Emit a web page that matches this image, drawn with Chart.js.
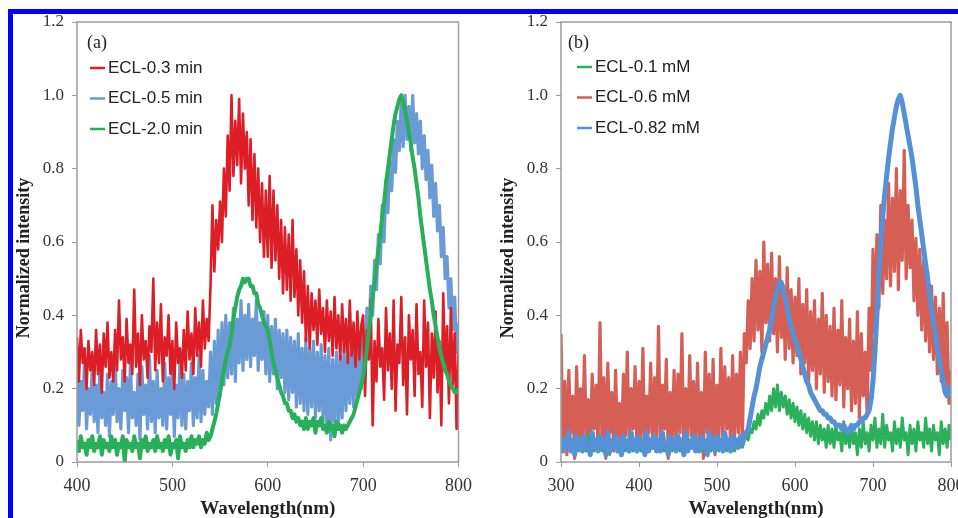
<!DOCTYPE html>
<html>
<head>
<meta charset="utf-8">
<script src="https://cdn.jsdelivr.net/npm/chart.js@4.4.1/dist/chart.umd.min.js"></script>
<style>
  html, body { margin: 0; padding: 0; background: #fff; }
  body { width: 958px; height: 518px; overflow: hidden; position: relative; }
  #chartA { position: absolute; left: 0; top: 0; }
  #chartB { position: absolute; left: 480px; top: 0; }
  #frame {
    position: absolute; left: 8px; top: 9px; width: 2000px; height: 2000px;
    border-top: 5px solid #0000ff; border-left: 5px solid #0000ff; pointer-events: none;
  }
</style>
</head>
<body>
<canvas id="chartA" width="480" height="518"></canvas>
<canvas id="chartB" width="500" height="518"></canvas>
<div id="frame"></div>
<script>
// panel (a): 400-800 nm, every 2 nm
const waveStartA = 400, waveStepA = 2;
// panel (b): 300-800 nm, every 2.5 nm
const waveStartB = 300, waveStepB = 2.5;

const yTicks = [0, 0.2, 0.4, 0.6, 0.8, 1.0, 1.2];
const xTicksA = [400, 500, 600, 700, 800];
const xTicksB = [300, 400, 500, 600, 700, 800];

const labelsA = ['ECL-0.3 min', 'ECL-0.5 min', 'ECL-2.0 min'];
const labelsB = ['ECL-0.1 mM', 'ECL-0.6 mM', 'ECL-0.82 mM'];

// (a) ECL-0.3 min
const ecl03min = [
  0.34,0.22,0.36,0.27,0.31,0.20,0.33,0.25,0.30,0.21,
  0.36,0.24,0.32,0.19,0.35,0.26,0.38,0.23,0.30,0.22,
  0.36,0.25,0.44,0.28,0.34,0.22,0.39,0.27,0.32,0.24,
  0.47,0.26,0.35,0.21,0.40,0.28,0.33,0.23,0.37,0.30,
  0.50,0.25,0.38,0.27,0.43,0.22,0.34,0.29,0.40,0.24,
  0.33,0.20,0.38,0.27,0.31,0.23,0.36,0.25,0.41,0.28,
  0.35,0.24,0.42,0.29,0.38,0.26,0.44,0.31,0.39,0.33,
  0.48,0.70,0.52,0.66,0.58,0.71,0.60,0.80,0.67,0.89,
  0.74,1.00,0.78,0.93,0.81,0.99,0.76,0.95,0.80,0.90,
  0.70,0.88,0.66,0.84,0.64,0.80,0.60,0.76,0.56,0.74,
  0.56,0.78,0.53,0.74,0.55,0.70,0.50,0.66,0.46,0.64,
  0.47,0.62,0.44,0.66,0.45,0.58,0.40,0.55,0.38,0.52,
  0.33,0.48,0.31,0.46,0.36,0.44,0.32,0.47,0.35,0.42,
  0.30,0.44,0.33,0.41,0.29,0.45,0.31,0.40,0.28,0.43,
  0.30,0.39,0.27,0.44,0.29,0.38,0.26,0.41,0.28,0.37,
  0.40,0.18,0.36,0.28,0.44,0.10,0.33,0.22,0.39,0.26,
  0.31,0.17,0.42,0.25,0.35,0.20,0.44,0.14,0.32,0.27,
  0.45,0.21,0.34,0.13,0.40,0.28,0.36,0.18,0.43,0.24,
  0.30,0.15,0.44,0.26,0.38,0.12,0.35,0.23,0.41,0.19,
  0.33,0.10,0.46,0.25,0.37,0.16,0.42,0.21,0.35,0.09,
  0.30
];

// (a) ECL-0.5 min
const ecl05min = [
  0.25,0.10,0.22,0.14,0.28,0.09,0.20,0.13,0.26,0.11,
  0.21,0.08,0.27,0.12,0.19,0.10,0.24,0.07,0.22,0.13,
  0.28,0.11,0.20,0.09,0.25,0.14,0.23,0.08,0.27,0.12,
  0.19,0.10,0.24,0.06,0.26,0.13,0.21,0.09,0.29,0.11,
  0.22,0.08,0.25,0.12,0.20,0.10,0.27,0.09,0.23,0.13,
  0.26,0.07,0.21,0.12,0.28,0.10,0.24,0.09,0.22,0.14,
  0.27,0.10,0.23,0.12,0.29,0.11,0.25,0.13,0.22,0.15,
  0.30,0.13,0.33,0.16,0.36,0.18,0.38,0.21,0.40,0.23,
  0.38,0.24,0.42,0.22,0.39,0.27,0.44,0.25,0.40,0.28,
  0.43,0.26,0.39,0.29,0.44,0.25,0.38,0.28,0.41,0.24,
  0.40,0.22,0.37,0.24,0.39,0.20,0.36,0.23,0.35,0.19,
  0.36,0.17,0.34,0.19,0.33,0.15,0.35,0.16,0.31,0.14,
  0.34,0.13,0.31,0.15,0.33,0.12,0.30,0.14,0.32,0.11,
  0.29,0.10,0.31,0.06,0.28,0.11,0.30,0.09,0.29,0.12,
  0.31,0.14,0.30,0.16,0.33,0.15,0.32,0.17,0.34,0.20,
  0.36,0.28,0.42,0.33,0.48,0.40,0.55,0.47,0.62,0.54,
  0.70,0.60,0.77,0.68,0.82,0.74,0.88,0.79,0.93,0.85,
  0.99,0.86,1.00,0.88,0.97,0.85,1.00,0.87,0.95,0.84,
  0.93,0.80,0.89,0.77,0.85,0.72,0.81,0.67,0.76,0.63,
  0.70,0.56,0.64,0.50,0.56,0.42,0.50,0.36,0.45,0.30,
  0.38
];

// (a) ECL-2.0 min
const ecl20min = [
  0.06,0.03,0.07,0.04,0.05,0.02,0.06,0.04,0.07,0.03,
  0.05,0.04,0.07,0.02,0.06,0.04,0.05,0.03,0.07,0.04,
  0.06,0.02,0.05,0.04,0.07,0.00,0.06,0.04,0.05,0.03,
  0.07,0.04,0.05,0.01,0.06,0.04,0.07,0.03,0.05,0.04,
  0.06,0.03,0.07,0.04,0.05,0.03,0.06,0.04,0.07,0.02,
  0.05,0.04,0.06,0.01,0.07,0.04,0.05,0.03,0.06,0.04,
  0.07,0.04,0.06,0.05,0.07,0.04,0.06,0.05,0.08,0.06,
  0.07,0.09,0.11,0.13,0.16,0.19,0.22,0.25,0.28,0.30,
  0.32,0.35,0.39,0.42,0.45,0.47,0.48,0.50,0.49,0.50,
  0.50,0.48,0.48,0.46,0.46,0.43,0.42,0.40,0.38,0.37,
  0.36,0.33,0.30,0.27,0.25,0.23,0.21,0.19,0.18,0.16,
  0.16,0.14,0.14,0.12,0.13,0.11,0.12,0.10,0.11,0.09,
  0.12,0.09,0.11,0.10,0.12,0.08,0.11,0.10,0.12,0.09,
  0.10,0.08,0.11,0.09,0.10,0.07,0.11,0.09,0.10,0.08,
  0.10,0.09,0.10,0.11,0.12,0.13,0.15,0.17,0.19,0.21,
  0.23,0.27,0.31,0.36,0.40,0.45,0.49,0.54,0.58,0.62,
  0.67,0.71,0.76,0.80,0.84,0.88,0.92,0.95,0.97,0.99,
  1.00,0.98,0.96,0.93,0.90,0.87,0.83,0.80,0.76,0.72,
  0.67,0.63,0.59,0.55,0.51,0.47,0.44,0.40,0.37,0.34,
  0.31,0.29,0.27,0.25,0.24,0.22,0.21,0.20,0.19,0.19,
  0.20
];

// (b) ECL-0.1 mM
const ecl01mM = [
  0.05,0.03,0.06,0.04,0.05,0.03,0.06,0.04,0.05,0.03,
  0.06,0.04,0.05,0.03,0.07,0.04,0.05,0.03,0.06,0.04,
  0.05,0.03,0.06,0.04,0.05,0.02,0.06,0.04,0.05,0.03,
  0.06,0.04,0.05,0.03,0.06,0.04,0.07,0.03,0.05,0.04,
  0.05,0.03,0.06,0.04,0.05,0.03,0.06,0.04,0.05,0.03,
  0.06,0.04,0.08,0.03,0.05,0.04,0.06,0.03,0.05,0.04,
  0.05,0.03,0.06,0.04,0.05,0.03,0.06,0.04,0.05,0.03,
  0.06,0.04,0.05,0.03,0.06,0.04,0.05,0.03,0.06,0.04,
  0.05,0.03,0.06,0.04,0.05,0.03,0.06,0.04,0.05,0.03,
  0.05,0.04,0.06,0.04,0.06,0.07,0.06,0.09,0.08,0.11,
  0.09,0.13,0.10,0.14,0.12,0.16,0.13,0.18,0.14,0.20,
  0.15,0.21,0.14,0.19,0.15,0.18,0.13,0.17,0.12,0.16,
  0.11,0.15,0.10,0.14,0.09,0.13,0.08,0.12,0.07,0.11,
  0.06,0.11,0.05,0.10,0.06,0.09,0.04,0.10,0.05,0.09,
  0.04,0.10,0.06,0.08,0.03,0.11,0.05,0.09,0.04,0.10,
  0.05,0.08,0.02,0.09,0.04,0.11,0.05,0.08,0.03,0.10,
  0.06,0.12,0.04,0.09,0.05,0.13,0.04,0.10,0.06,0.08,
  0.03,0.11,0.05,0.09,0.04,0.12,0.06,0.08,0.02,0.10,
  0.05,0.09,0.03,0.11,0.06,0.08,0.04,0.12,0.05,0.09,
  0.03,0.10,0.06,0.08,0.02,0.11,0.05,0.09,0.04,0.10,
  0.06
];

// (b) ECL-0.6 mM
const ecl06mM = [
  0.35,0.05,0.22,0.02,0.25,0.08,0.18,0.01,0.26,0.06,
  0.20,0.03,0.29,0.07,0.17,0.02,0.24,0.09,0.21,0.04,
  0.38,0.06,0.23,0.01,0.27,0.08,0.19,0.03,0.25,0.05,
  0.16,0.02,0.24,0.07,0.30,0.04,0.20,0.09,0.26,0.03,
  0.22,0.06,0.31,0.02,0.18,0.08,0.27,0.04,0.23,0.07,
  0.37,0.03,0.21,0.09,0.28,0.01,0.19,0.06,0.25,0.04,
  0.24,0.08,0.35,0.02,0.20,0.05,0.29,0.07,0.22,0.03,
  0.27,0.06,0.19,0.01,0.30,0.08,0.24,0.04,0.28,0.02,
  0.21,0.07,0.31,0.05,0.26,0.09,0.23,0.03,0.29,0.06,
  0.24,0.08,0.30,0.05,0.35,0.27,0.44,0.31,0.50,0.33,
  0.55,0.36,0.52,0.30,0.60,0.38,0.54,0.33,0.57,0.35,
  0.50,0.30,0.56,0.34,0.48,0.28,0.53,0.31,0.47,0.27,
  0.45,0.29,0.50,0.24,0.43,0.27,0.47,0.22,0.41,0.25,
  0.44,0.20,0.39,0.24,0.46,0.19,0.40,0.22,0.37,0.18,
  0.42,0.17,0.36,0.21,0.44,0.15,0.34,0.20,0.39,0.14,
  0.33,0.16,0.41,0.12,0.35,0.18,0.30,0.13,0.42,0.25,
  0.58,0.35,0.62,0.42,0.70,0.46,0.66,0.50,0.76,0.48,
  0.72,0.52,0.80,0.47,0.74,0.55,0.85,0.50,0.70,0.53,
  0.66,0.44,0.61,0.40,0.58,0.36,0.55,0.33,0.52,0.30,
  0.48,0.28,0.45,0.24,0.42,0.22,0.46,0.19,0.38,0.16,
  0.25
];

// (b) ECL-0.82 mM
const ecl082mM = [
  0.07,0.03,0.06,0.04,0.08,0.03,0.05,0.02,0.07,0.04,
  0.06,0.03,0.07,0.04,0.05,0.02,0.08,0.04,0.06,0.03,
  0.07,0.04,0.06,0.02,0.08,0.03,0.05,0.04,0.07,0.03,
  0.06,0.02,0.07,0.04,0.05,0.03,0.08,0.04,0.06,0.03,
  0.07,0.04,0.05,0.02,0.08,0.03,0.06,0.04,0.07,0.03,
  0.06,0.03,0.08,0.04,0.05,0.02,0.07,0.04,0.06,0.03,
  0.07,0.04,0.06,0.02,0.08,0.03,0.05,0.04,0.07,0.03,
  0.06,0.03,0.07,0.04,0.05,0.02,0.08,0.04,0.06,0.03,
  0.07,0.04,0.06,0.03,0.08,0.04,0.06,0.03,0.07,0.04,
  0.06,0.04,0.07,0.05,0.07,0.08,0.09,0.12,0.15,0.18,
  0.20,0.23,0.26,0.28,0.30,0.32,0.34,0.36,0.39,0.42,
  0.45,0.47,0.49,0.49,0.47,0.45,0.42,0.39,0.37,0.35,
  0.33,0.32,0.30,0.28,0.26,0.24,0.22,0.21,0.19,0.18,
  0.17,0.16,0.15,0.14,0.14,0.13,0.13,0.12,0.12,0.11,
  0.11,0.10,0.10,0.10,0.09,0.10,0.09,0.08,0.09,0.10,
  0.09,0.10,0.10,0.11,0.11,0.12,0.12,0.13,0.14,0.17,
  0.22,0.30,0.40,0.52,0.60,0.67,0.73,0.78,0.83,0.87,
  0.91,0.94,0.97,0.99,1.00,0.98,0.95,0.92,0.89,0.86,
  0.83,0.79,0.75,0.70,0.66,0.62,0.58,0.54,0.50,0.46,
  0.42,0.38,0.35,0.31,0.28,0.25,0.22,0.19,0.18,0.19,
  0.21
];

function toPoints(values, start, step) {
  return values.map((v, i) => ({ x: start + step * i, y: v }));
}

const serif = '"Liberation Serif", "Times New Roman", serif';
const sans = '"Liberation Sans", Arial, sans-serif';

// frame, panel tag, y title and the in-plot legend
const panelDecor = {
  id: 'panelDecor',
  afterDraw(chart, args, opts) {
    const ctx = chart.ctx;
    const a = chart.chartArea;
    ctx.save();
    ctx.strokeStyle = '#9c9c9c';
    ctx.lineWidth = 1.5;
    ctx.strokeRect(a.left, a.top, a.right - a.left, a.bottom - a.top);

    ctx.fillStyle = '#222';
    ctx.textBaseline = 'middle';
    ctx.textAlign = 'left';
    ctx.font = '18px ' + serif;
    ctx.fillText(opts.tag, opts.tagX, 43);

    ctx.save();
    ctx.translate(opts.titleX, 258);
    ctx.rotate(-Math.PI / 2);
    ctx.textAlign = 'center';
    ctx.font = 'bold 18px ' + serif;
    ctx.fillText('Normalized intensity', 0, 0);
    ctx.restore();

    ctx.font = '17px ' + sans;
    chart.data.datasets.forEach((ds, i) => {
      const y = opts.legendY + i * 30.5;
      ctx.strokeStyle = ds.borderColor;
      ctx.lineWidth = 2.5;
      ctx.beginPath();
      ctx.moveTo(opts.legendX, y);
      ctx.lineTo(opts.legendX + 15, y);
      ctx.stroke();
      ctx.fillStyle = '#222';
      ctx.fillText(ds.label, opts.legendX + 18, y);
    });
    ctx.restore();
  }
};

function makeOptions(xMin, xMax, xTicks, yWidth, padRight, decor) {
  return {
    responsive: false,
    animation: false,
    events: [],
    layout: { padding: { left: 0, right: padRight, top: 22, bottom: 0 } },
    elements: { point: { radius: 0 }, line: { tension: 0, borderJoinStyle: 'round' } },
    scales: {
      x: {
        type: 'linear',
        min: xMin,
        max: xMax,
        afterBuildTicks: (scale) => { scale.ticks = xTicks.map(v => ({ value: v })); },
        afterFit: (scale) => { scale.height = 56; },
        grid: { drawOnChartArea: false, drawTicks: true, tickLength: 5, color: '#9c9c9c' },
        border: { display: false },
        ticks: { color: '#333', padding: 8, font: { family: serif, size: 18 } },
        title: {
          display: true, text: 'Wavelength(nm)', color: '#222',
          font: { family: serif, size: 19, weight: 'bold' },
          padding: { top: 0, bottom: -2 }
        }
      },
      y: {
        min: 0,
        max: 1.2,
        afterBuildTicks: (scale) => { scale.ticks = yTicks.map(v => ({ value: v })); },
        afterFit: (scale) => { scale.width = yWidth; },
        grid: { drawOnChartArea: false, drawTicks: true, tickLength: 5, color: '#9c9c9c' },
        border: { display: false },
        ticks: {
          color: '#333', padding: 8, font: { family: serif, size: 17 },
          callback: (v) => v === 0 ? '0' : v.toFixed(1)
        }
      }
    },
    plugins: {
      legend: { display: false },
      tooltip: { enabled: false },
      panelDecor: decor
    }
  };
}

new Chart(document.getElementById('chartA'), {
  type: 'line',
  data: {
    datasets: [
      { label: labelsA[0], data: toPoints(ecl03min, waveStartA, waveStepA), borderColor: '#dc1f26', borderWidth: 2.6, order: 1 },
      { label: labelsA[1], data: toPoints(ecl05min, waveStartA, waveStepA), borderColor: '#6a9bd7', borderWidth: 3.2, order: 2 },
      { label: labelsA[2], data: toPoints(ecl20min, waveStartA, waveStepA), borderColor: '#28af5a', borderWidth: 4, order: 0 }
    ]
  },
  options: makeOptions(400, 800, xTicksA, 77, 17,
    { tag: '(a)', tagX: 87, titleX: 24, legendX: 90, legendY: 68 }),
  plugins: [panelDecor]
});

new Chart(document.getElementById('chartB'), {
  type: 'line',
  data: {
    datasets: [
      { label: labelsB[0], data: toPoints(ecl01mM, waveStartB, waveStepB), borderColor: '#2db05c', borderWidth: 3, order: 1 },
      { label: labelsB[1], data: toPoints(ecl06mM, waveStartB, waveStepB), borderColor: '#d65f55', borderWidth: 3.2, order: 2 },
      { label: labelsB[2], data: toPoints(ecl082mM, waveStartB, waveStepB), borderColor: '#5591d7', borderWidth: 5, order: 0 }
    ]
  },
  options: makeOptions(300, 800, xTicksB, 81, 29,
    { tag: '(b)', tagX: 88, titleX: 28, legendX: 97, legendY: 67 }),
  plugins: [panelDecor]
});
</script>
</body>
</html>
